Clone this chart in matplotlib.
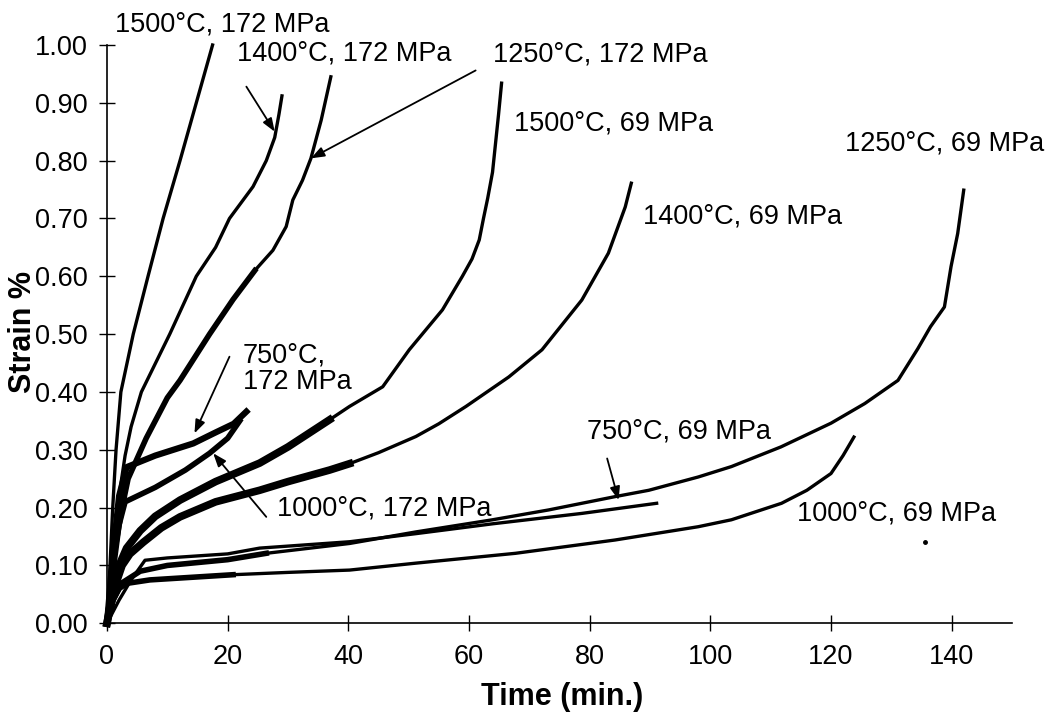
import matplotlib
matplotlib.use("Agg")
import matplotlib.pyplot as plt

plt.rcParams['font.family'] = ['Liberation Sans', 'DejaVu Sans']

# creep curves: time (min), strain (%)
t_1500_172 = [0, 0.5, 0.95, 1.5, 2.3, 4.35, 6.8, 9.3, 12.1, 14.8, 17.5]
s_1500_172 = [0, 0.10, 0.20, 0.30, 0.40, 0.50, 0.60, 0.70, 0.80, 0.90, 1.00]

t_1400_172 = [0, 1.0, 2.0, 3.0, 4.0, 5.7, 10.4, 14.8, 18.0, 20.3, 24.2, 26.4, 27.8, 28.5, 29.0]
s_1400_172 = [0, 0.12, 0.22, 0.29, 0.34, 0.40, 0.50, 0.60, 0.65, 0.70, 0.755, 0.80, 0.84, 0.88, 0.912]

t_1250_172 = [0, 1.2, 2.5, 3.5, 6.5, 10.0, 12.1, 17.0, 20.9, 24.5, 27.5, 29.7, 30.8, 32.4, 33.8, 35.5, 37.1]
s_1250_172 = [0, 0.12, 0.20, 0.25, 0.32, 0.39, 0.42, 0.50, 0.56, 0.61, 0.645, 0.686, 0.732, 0.766, 0.804, 0.87, 0.945]

t_750_172 = [0, 1.0, 2.0, 3.25, 8.0, 14.3, 18.0, 21.0, 23.1]
s_750_172 = [0, 0.12, 0.22, 0.27, 0.29, 0.311, 0.33, 0.345, 0.366]

t_1000_172 = [0, 1.0, 2.0, 3.0, 8.0, 13.0, 17.0, 20.0, 22.0]
s_1000_172 = [0, 0.09, 0.17, 0.21, 0.235, 0.265, 0.294, 0.32, 0.35]

t_1500_69 = [0, 1.0, 2.0, 3.25, 5.5, 8.0, 12.1, 18.0, 25.3, 30.0, 36.9, 40.2, 45.7, 50.1,
             55.6, 58.9, 60.5, 61.7, 62.4, 63.1, 63.9, 64.4, 64.9, 65.4]
s_1500_69 = [0, 0.06, 0.10, 0.13, 0.16, 0.185, 0.213, 0.245, 0.277, 0.305, 0.352, 0.375, 0.409, 0.473,
             0.542, 0.60, 0.63, 0.663, 0.70, 0.735, 0.78, 0.83, 0.88, 0.934]

t_1400_69 = [0, 1.2, 2.5, 3.8, 6.0, 9.0, 12.1, 18.0, 25.3, 30.0, 36.9, 40.2, 45.0, 51.2, 55.0,
             59.5, 66.6, 72.1, 78.7, 83.1, 85.9, 86.9]
s_1400_69 = [0, 0.06, 0.10, 0.12, 0.14, 0.165, 0.184, 0.21, 0.23, 0.245, 0.265, 0.276, 0.295, 0.323, 0.345,
             0.375, 0.426, 0.473, 0.559, 0.64, 0.72, 0.761]

t_1250_69 = [0, 1.0, 2.5, 5.5, 10.0, 20.0, 26.4, 40.2, 51.2, 63.9, 73.2, 84.2, 89.8, 98.0, 103.5,
             111.7, 120.0, 125.6, 131.1, 134.4, 136.5, 138.8, 139.9, 141.0, 142.0]
s_1250_69 = [0, 0.04, 0.07, 0.09, 0.10, 0.11, 0.121, 0.138, 0.158, 0.179, 0.196, 0.219, 0.23, 0.253, 0.271,
             0.305, 0.346, 0.38, 0.42, 0.475, 0.513, 0.547, 0.617, 0.674, 0.749]

t_750_69 = [0, 2.0, 4.0, 6.3, 10.0, 20.0, 25.3, 40.2, 51.2, 63.9, 78.7, 91.1]
s_750_69 = [0, 0.04, 0.075, 0.109, 0.113, 0.12, 0.13, 0.141, 0.155, 0.172, 0.19, 0.2075]

t_1000_69 = [0, 1.0, 2.0, 3.3, 7.1, 20.9, 30.0, 40.2, 51.2, 67.7, 84.2, 98.0, 103.5, 111.8,
             116.0, 120.0, 122.0, 123.8]
s_1000_69 = [0, 0.04, 0.06, 0.069, 0.075, 0.084, 0.088, 0.092, 0.104, 0.121, 0.144, 0.167, 0.179, 0.2075,
             0.23, 0.259, 0.29, 0.322]

stray_dot = (135.6, 0.141)

# (times, strains, x up to which the trace is a thick noisy band, band width)
curves = [
    (t_1500_172, s_1500_172, 0, 0),
    (t_1400_172, s_1400_172, 0, 0),
    (t_1250_172, s_1250_172, 25, 4.0),
    (t_750_172, s_750_172, 24, 4.5),
    (t_1000_172, s_1000_172, 23, 4.0),
    (t_1500_69, s_1500_69, 37, 5.5),
    (t_1400_69, s_1400_69, 41, 5.5),
    (t_1250_69, s_1250_69, 30, 4.0),
    (t_750_69, s_750_69, 0, 0),
    (t_1000_69, s_1000_69, 27, 4.0),
]

fig = plt.figure(figsize=(10.5, 7.12), dpi=100)
ax = fig.add_axes([0.1019, 0.1246, 0.8619, 0.8122])

for t, s, cut, w in curves:
    ax.plot(t, s, color='black', lw=2.4, clip_on=False, solid_joinstyle='round')
    if cut > 0:
        tt = [x for x in t if x <= cut]
        ss = s[:len(tt)]
        ax.plot(tt, ss, color='black', lw=w, clip_on=False)

ax.plot([stray_dot[0]], [stray_dot[1]], marker='o', ms=2.5, color='black', clip_on=False)

fs = 19.5
txt = dict(fontsize=fs, va='center', ha='left', annotation_clip=False)
thin = dict(arrowstyle='-|>,head_length=0.8,head_width=0.3', color='black', lw=1.3, shrinkA=0, shrinkB=0)
ax.annotate('1500°C, 172 MPa', xy=(1.3, 1.035), **txt)
ax.annotate('1400°C, 172 MPa', xy=(21.5, 0.986), **txt)
ax.annotate('', xy=(27.8, 0.850), xytext=(23.1, 0.928), arrowprops=thin)
ax.annotate('1250°C, 172 MPa', xy=(63.9, 0.983), **txt)
ax.annotate('', xy=(33.8, 0.804), xytext=(61.1, 0.956), arrowprops=thin)
ax.annotate('1500°C, 69 MPa', xy=(67.4, 0.865), **txt)
ax.annotate('1400°C, 69 MPa', xy=(88.9, 0.703), **txt)
ax.annotate('1250°C, 69 MPa', xy=(122.3, 0.83), **txt)
ax.annotate('750°C,\n172 MPa', xy=(22.5, 0.44), linespacing=1.0, **txt)
ax.annotate('', xy=(14.5, 0.3285), xytext=(20.3, 0.461), arrowprops=thin)
ax.annotate('1000°C, 172 MPa', xy=(28.1, 0.199), **txt)
ax.annotate('', xy=(17.6, 0.294), xytext=(26.4, 0.184), arrowprops=thin)
ax.annotate('750°C, 69 MPa', xy=(79.6, 0.331), **txt)
ax.annotate('', xy=(84.8, 0.213), xytext=(82.9, 0.285), arrowprops=thin)
ax.annotate('1000°C, 69 MPa', xy=(114.3, 0.19), **txt)

ax.set_xlim(0, 150)
ax.set_ylim(0, 1.0)
ax.set_xticks(range(0, 141, 20))
ax.set_yticks([i / 10 for i in range(11)])
ax.set_yticklabels(['%.2f' % (i / 10) for i in range(11)])
ax.tick_params(direction='inout', length=11.5, width=1.0, labelsize=fs, pad=8)
ax.tick_params(axis='x', pad=9)
for side in ['top', 'right']:
    ax.spines[side].set_visible(False)
for side in ['left', 'bottom']:
    ax.spines[side].set_linewidth(1.2)

fig.text(562 / 1050, 1 - 697 / 712, 'Time (min.)', fontsize=22, fontweight='bold', ha='center', va='center')
fig.text(23 / 1050, 1 - 332 / 712, 'Strain %', fontsize=22, fontweight='bold', ha='center', va='center',
         rotation=90)

fig.savefig('out.png', dpi=100)
